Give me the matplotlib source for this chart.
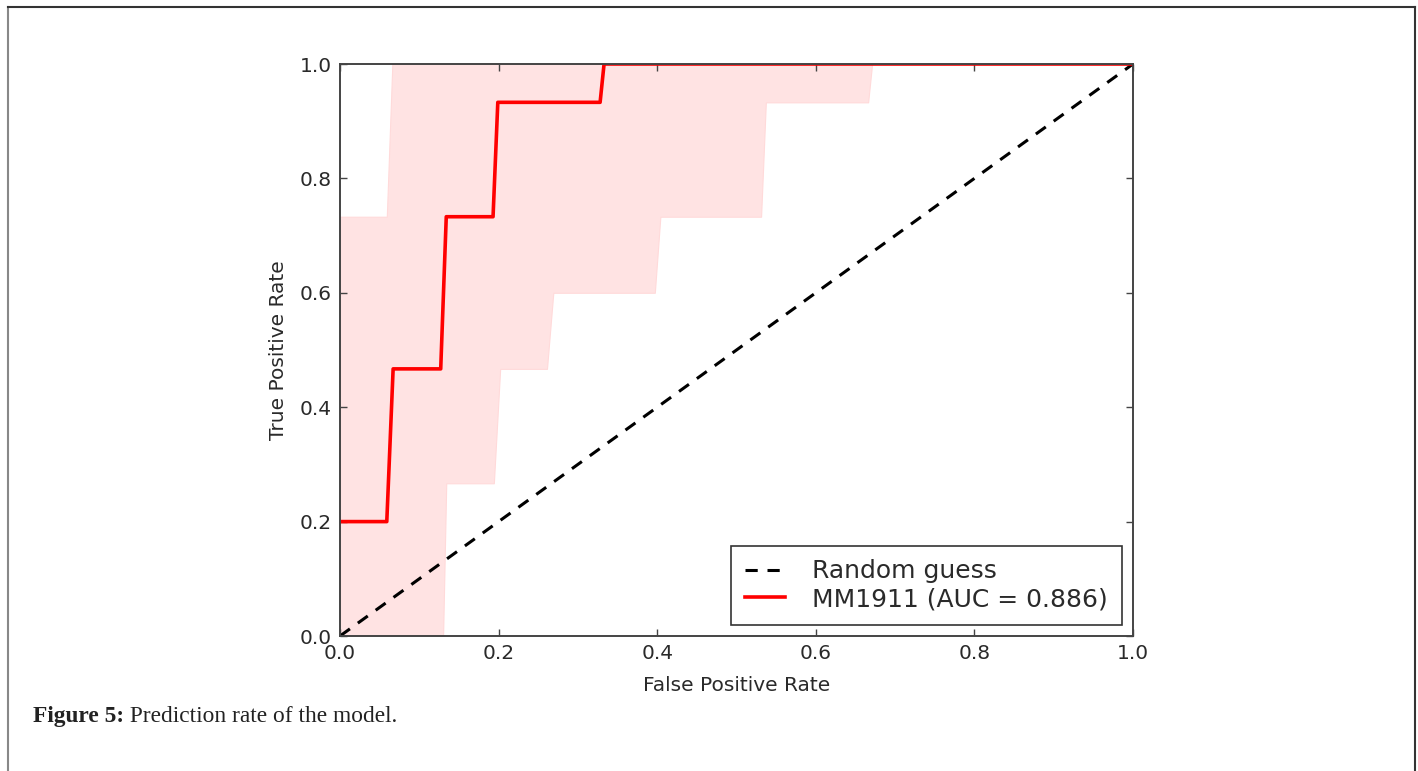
import matplotlib
matplotlib.use("Agg")
import matplotlib.pyplot as plt
from matplotlib.lines import Line2D
import numpy as np

# ---- data ----
roc_fpr = [0.0, 0.059, 0.067, 0.127, 0.134, 0.193, 0.199, 0.328, 0.333, 1.0]
roc_tpr = [0.200, 0.200, 0.467, 0.467, 0.733, 0.733, 0.933, 0.933, 1.0, 1.0]

band_upper_x = [0.0, 0.059, 0.066, 1.0]
band_upper_y = [0.733, 0.733, 1.0, 1.0]

band_lower_x = [0.0, 0.130, 0.134, 0.194, 0.202, 0.261, 0.269, 0.397,
                0.404, 0.531, 0.537, 0.666, 0.671, 1.0]
band_lower_y = [0.0, 0.0, 0.267, 0.267, 0.467, 0.467, 0.600, 0.600,
                0.733, 0.733, 0.933, 0.933, 1.0, 1.0]

diag_x = [0.0, 1.0]
diag_y = [0.0, 1.0]

x_ticks = [0.0, 0.2, 0.4, 0.6, 0.8, 1.0]
y_ticks = [0.0, 0.2, 0.4, 0.6, 0.8, 1.0]

legend_random = "Random guess"
legend_model = "MM1911 (AUC = 0.886)"
x_label = "False Positive Rate"
y_label = "True Positive Rate"
caption_bold = "Figure 5:"
caption_text = " Prediction rate of the model."

# ---- build polygon of the band from the two boundaries ----
grid = np.unique(np.concatenate([band_upper_x, band_lower_x]))
up = np.interp(grid, band_upper_x, band_upper_y)
lo = np.interp(grid, band_lower_x, band_lower_y)

fig = plt.figure(figsize=(14.18, 7.71), dpi=100)
fig.patch.set_facecolor("white")
ax = fig.add_axes([340 / 1418, 1 - 636 / 771, (1133 - 340) / 1418, (636 - 64) / 771])

ax.fill_between(grid, lo, up, color="#ffe3e3", linewidth=0.8, edgecolor="#ffdada", zorder=1)
ax.plot(diag_x, diag_y, linestyle="--", color="black", lw=2.2, dashes=(4, 3.2),
        label=legend_random, zorder=3)
ax.plot(roc_fpr, roc_tpr, color="red", lw=2.6, label=legend_model, zorder=4)

ax.set_xlim(0, 1)
ax.set_ylim(0, 1)
ax.set_xticks(x_ticks)
ax.set_yticks(y_ticks)
ax.set_xticklabels([f"{t:.1f}" for t in x_ticks])
ax.set_yticklabels([f"{t:.1f}" for t in y_ticks])
ax.tick_params(direction="in", top=True, right=True, length=5, width=1,
               color="#444444", labelsize=14.5, labelcolor="#2a2a2a", pad=6)
for s in ax.spines.values():
    s.set_color("#444444")
    s.set_linewidth(1.4)
    s.set_zorder(5)

ax.set_xlabel(x_label, fontsize=14.5, color="#2a2a2a", labelpad=9)
ax.set_ylabel(y_label, fontsize=14.5, color="#2a2a2a", labelpad=8)

leg = ax.legend(loc="lower right", fontsize=18, frameon=True, fancybox=False,
                edgecolor="black", handlelength=1.6, handletextpad=1.1,
                borderpad=0.55, labelspacing=0.15, borderaxespad=0.45)
leg.get_frame().set_linewidth(1.2)
leg.set_zorder(6)
for t in leg.get_texts():
    t.set_color("#2a2a2a")

# outer frame of the figure panel
fig.add_artist(Line2D([8 / 1418, 8 / 1418], [0, 1 - 7 / 771], color="#888888", lw=1.5,
                      transform=fig.transFigure))
fig.add_artist(Line2D([8 / 1418, 1415 / 1418], [1 - 7 / 771, 1 - 7 / 771], color="#333333",
                      lw=1.5, transform=fig.transFigure))
fig.add_artist(Line2D([1415 / 1418, 1415 / 1418], [0, 1 - 7 / 771], color="#333333",
                      lw=1.5, transform=fig.transFigure))

# caption
t1 = fig.text(33 / 1418, 1 - 722 / 771, caption_bold, fontsize=16.8, fontweight="bold",
              family="Liberation Serif", color="#222222", va="baseline")
fig.canvas.draw()
bb = t1.get_window_extent()
fig.text(bb.x1 / 1418, 1 - 722 / 771, caption_text, fontsize=16.8,
         family="Liberation Serif", color="#222222", va="baseline")

fig.savefig("out.png", dpi=100)
